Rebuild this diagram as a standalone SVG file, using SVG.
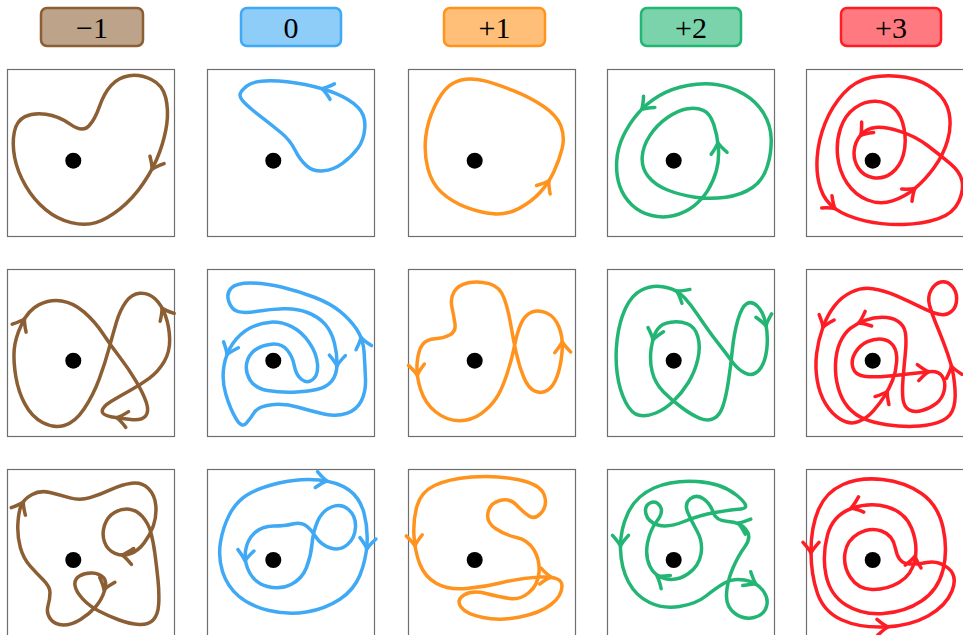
<svg xmlns="http://www.w3.org/2000/svg" width="963" height="635" viewBox="0 0 963 635">
<style>
.frame{fill:none;stroke:#6e6e6e;stroke-width:1.2}
.dot{fill:#000}
.s3{fill:none;stroke-width:10.5;stroke-linecap:round;stroke-linejoin:round}
.s1{fill:none;stroke-width:3.5;stroke-linecap:round;stroke-linejoin:round}
.brown{stroke:#8b5e34}
.blue{stroke:#3fa9f5}
.orange{stroke:#ff931e}
.green{stroke:#22b573}
.red{stroke:#ff1d25}
.hdr{stroke-width:2.5}
.lbl{font-family:"Liberation Serif","DejaVu Serif",serif;font-size:30px;fill:#000;text-anchor:middle}
</style>
<defs>
<path id="ah3" d="M-32,-24 Q-11,-5 0,0 Q-11,5 -32,24"/>
<path id="ah" d="M-10.7,-8 Q-3.7,-1.7 0,0 Q-3.7,1.7 -10.7,8"/>
</defs>
<rect width="963" height="635" fill="#fff"/>
<g id="headers">
<g id="hdr-m1"><rect class="hdr" x="41" y="8" width="102" height="38" rx="6" fill="#bda38a" stroke="#8b5e34"/><text class="lbl" x="92" y="38">−1</text></g>
<g id="hdr-0"><rect class="hdr" x="241" y="8" width="100" height="38" rx="6" fill="#8ecdf7" stroke="#3fa9f5"/><text class="lbl" x="291" y="38">0</text></g>
<g id="hdr-p1"><rect class="hdr" x="444" y="8" width="101" height="38" rx="6" fill="#ffbf78" stroke="#ff931e"/><text class="lbl" x="494.5" y="38">+1</text></g>
<g id="hdr-p2"><rect class="hdr" x="641" y="8" width="100" height="38" rx="6" fill="#7bd3ab" stroke="#22b573"/><text class="lbl" x="691" y="38">+2</text></g>
<g id="hdr-p3"><rect class="hdr" x="841" y="8" width="100" height="38" rx="6" fill="#ff7a80" stroke="#ff1d25"/><text class="lbl" x="891" y="38">+3</text></g>
</g>

<g id="panel-r1c1">
<rect class="frame" x="7.5" y="69.5" width="167" height="167"/>
<g class="s3 brown" transform="translate(0,60) scale(0.333333)">
<path d="M75,170 Q100,158 137.5,163 Q175,168 211.5,193 Q248,218 266.5,198 Q285,178 298.5,139 Q312,100 333.5,76 Q355,52 387.5,47 Q420,42 454,58.5 Q488,75 497,112.5 Q506,150 500.5,191 Q495,232 478.5,277 Q462,322 431,368.5 Q400,415 360,446.5 Q320,478 287.5,488 Q255,498 213.5,488 Q172,478 137,449 Q102,420 77,377.5 Q52,335 44,292.5 Q36,250 43,216 Q50,182 75,170 Z"/>
<use href="#ah3" transform="translate(456,328) rotate(118)"/>
</g>
<circle class="dot" cx="73.3" cy="160.7" r="8"/>
</g>

<g id="panel-r1c2">
<rect class="frame" x="207.5" y="69.5" width="167" height="167"/>
<g class="s3 blue" transform="translate(200,60) scale(0.333333)">
<path d="M120,105 Q120,95 140,78.5 Q160,62 210,62 Q260,62 315,73.5 Q370,85 410,101.5 Q450,118 473.5,141.5 Q497,165 494.5,202.5 Q492,240 473.5,265 Q455,290 427.5,310 Q400,330 370,332.5 Q340,335 320,317.5 Q300,300 285,270 Q270,240 242.5,217.5 Q215,195 182.5,170 Q150,145 135,130 Q120,115 120,105 Z"/>
<use href="#ah3" transform="translate(366,86) rotate(196)"/>
</g>
<circle class="dot" cx="273.3" cy="160.7" r="8"/>
</g>

<g id="panel-r1c3">
<rect class="frame" x="408.5" y="69.5" width="167" height="167"/>
<g class="s3 orange" transform="translate(400,60) scale(0.333333)">
<path d="M197.5,57.5 Q225,55 257.5,63.5 Q290,72 340,92 Q390,112 430,138.5 Q470,165 482.5,197.5 Q495,230 486.5,265 Q478,300 461.5,335 Q445,370 420,397.5 Q395,425 357.5,445 Q320,465 280,461.5 Q240,458 197.5,441.5 Q155,425 125,397.5 Q95,370 83.5,325 Q72,280 77,232.5 Q82,185 103.5,140 Q125,95 147.5,77.5 Q170,60 197.5,57.5 Z"/>
<use href="#ah3" transform="translate(447,362) rotate(-58)"/>
</g>
<circle class="dot" cx="474.7" cy="160.7" r="8"/>
</g>

<g id="panel-r1c4">
<rect class="frame" x="607.5" y="69.5" width="167" height="167"/>
<g class="s3 green" transform="translate(600,60) scale(0.333333)">
<path d="M349,332.5 Q358,300 355,262.5 Q352,225 341,192.5 Q330,160 310,151 Q290,142 262.5,146 Q235,150 202.5,172.5 Q170,195 149,227.5 Q128,260 126.5,292.5 Q125,325 145,350 Q165,375 202.5,390 Q240,405 285,411.5 Q330,418 377.5,411.5 Q425,405 457.5,382.5 Q490,360 502.5,317.5 Q515,275 513.5,235 Q512,195 491,160 Q470,125 432.5,102.5 Q395,80 352.5,74 Q310,68 262.5,76.5 Q215,85 177.5,107.5 Q140,130 114,160 Q88,190 70,227.5 Q52,265 50,305 Q48,345 59,377.5 Q70,410 95,434 Q120,458 155,466.5 Q190,475 222.5,466.5 Q255,458 280,439 Q305,420 322.5,392.5 Q340,365 349,332.5 Z"/>
<use href="#ah3" transform="translate(125,148) rotate(135)"/>
<use href="#ah3" transform="translate(353.5,248) rotate(-97)"/>
</g>
<circle class="dot" cx="673.7" cy="160.7" r="8"/>
</g>

<g id="panel-r1c5">
<rect class="frame" x="806.5" y="69.5" width="167" height="167"/>
<g class="s3 red" transform="translate(800,60) scale(0.333333)">
<path d="M300,214 Q255,200 227.5,202.5 Q200,205 182.5,225 Q165,245 162.5,272.5 Q160,300 175,324 Q190,348 220,353 Q250,358 275,339 Q300,320 310,285 Q320,250 312.5,207.5 Q305,165 282.5,145 Q260,125 227.5,123.5 Q195,122 165,143.5 Q135,165 121.5,205 Q108,245 113,290 Q118,335 141.5,370 Q165,405 202.5,420 Q240,435 277.5,422.5 Q315,410 345,385 Q375,360 402.5,322.5 Q430,285 442.5,242.5 Q455,200 447.5,160 Q440,120 405,91 Q370,62 317.5,52 Q265,42 215,52 Q165,62 130,101 Q95,140 75,190 Q55,240 51.5,292.5 Q48,345 61.5,385 Q75,425 107.5,447.5 Q140,470 195,482.5 Q250,495 310,493.5 Q370,492 415,476 Q460,460 476,425 Q492,390 486,362.5 Q480,335 450,310 Q420,285 382.5,256.5 Q345,228 300,214 Z"/>
<use href="#ah3" transform="translate(182,226) rotate(131)"/>
<use href="#ah3" transform="translate(345,385) rotate(-40)"/>
<use href="#ah3" transform="translate(105,446) rotate(40)"/>
</g>
<circle class="dot" cx="872.7" cy="160.7" r="8"/>
</g>

<g id="panel-r2c1">
<rect class="frame" x="7.5" y="269.5" width="167" height="167"/>
<g class="s3 brown" transform="translate(0,260) scale(0.333333)">
<path d="M42.5,270 Q45,235 65,192.5 Q85,150 117.5,134 Q150,118 185,123 Q220,128 252.5,156.5 Q285,185 310,222.5 Q335,260 360,292.5 Q385,325 407.5,362.5 Q430,400 439,427.5 Q448,455 436.5,468.5 Q425,482 392.5,478.5 Q360,475 332.5,470 Q305,465 306.5,452.5 Q308,440 334,424 Q360,408 390,391.5 Q420,375 447.5,355 Q475,335 492.5,305 Q510,275 509,237.5 Q508,200 496.5,167.5 Q485,135 465,116.5 Q445,98 420,100 Q395,102 377.5,126 Q360,150 349,187.5 Q338,225 326.5,267.5 Q315,310 297.5,357.5 Q280,405 252.5,446.5 Q225,488 192.5,496.5 Q160,505 127.5,487.5 Q95,470 75,432.5 Q55,395 47.5,350 Q40,305 42.5,270 Z"/>
<use href="#ah3" transform="translate(73.5,176.6) rotate(-60)"/>
<use href="#ah3" transform="translate(350,473) rotate(190)"/>
<use href="#ah3" transform="translate(486,144) rotate(-119)"/>
</g>
<circle class="dot" cx="73.3" cy="360.7" r="8"/>
</g>

<g id="panel-r2c2">
<rect class="frame" x="207.5" y="269.5" width="167" height="167"/>
<g class="s3 blue" transform="translate(200,260) scale(0.333333)">
<path d="M496.5,357.5 Q495,320 492.5,279 Q490,238 470,208 Q450,178 420,154 Q390,130 345,112.5 Q300,95 250,82.5 Q200,70 155,69 Q110,68 94,84 Q78,100 86.5,125 Q95,150 115,155 Q135,160 172.5,154 Q210,148 250,146.5 Q290,145 322.5,157.5 Q355,170 375,192.5 Q395,215 403.5,250 Q412,285 411,315 Q410,345 395,363.5 Q380,382 350,388.5 Q320,395 280,396.5 Q240,398 202.5,391.5 Q165,385 150,360 Q135,335 140,310 Q145,285 165,270 Q185,255 215,252.5 Q245,250 261.5,270 Q278,290 283,317.5 Q288,345 305,358.5 Q322,372 338.5,358.5 Q355,345 352.5,312.5 Q350,280 327.5,247.5 Q305,215 275,200 Q245,185 212.5,186.5 Q180,188 150,204 Q120,220 99,250 Q78,280 71.5,320 Q65,360 77.5,402.5 Q90,445 107.5,475 Q125,505 138.5,490 Q152,475 163.5,456.5 Q175,438 215,434 Q255,430 297.5,442.5 Q340,455 375,462.5 Q410,470 440,460 Q470,450 484,422.5 Q498,395 496.5,357.5 Z"/>
<use href="#ah3" transform="translate(411,318) rotate(92)"/>
<use href="#ah3" transform="translate(81,284) rotate(112)"/>
<use href="#ah3" transform="translate(483,232) rotate(-105)"/>
</g>
<circle class="dot" cx="273.3" cy="360.7" r="8"/>
</g>

<g id="panel-r2c3">
<rect class="frame" x="408.5" y="269.5" width="167" height="167"/>
<g class="s3 orange" transform="translate(400,260) scale(0.333333)">
<path d="M267.5,71 Q235,62 205,68.5 Q175,75 162.5,95 Q150,115 156,142.5 Q162,170 165,192.5 Q168,215 149,225 Q130,235 105,236.5 Q80,238 67.5,254 Q55,270 51.5,307.5 Q48,345 61.5,387.5 Q75,430 107.5,456 Q140,482 177.5,482 Q215,482 243.5,461 Q272,440 288.5,415 Q305,390 320,345 Q335,300 343.5,257.5 Q352,215 363.5,190 Q375,165 395,156.5 Q415,148 440,159 Q465,170 477.5,202.5 Q490,235 486,277.5 Q482,320 471,350 Q460,380 442.5,391 Q425,402 405,393.5 Q385,385 371.5,352.5 Q358,320 349,280 Q340,240 332.5,195 Q325,150 312.5,115 Q300,80 267.5,71 Z"/>
<use href="#ah3" transform="translate(52,346) rotate(85)"/>
<use href="#ah3" transform="translate(486.5,245) rotate(-93)"/>
</g>
<circle class="dot" cx="474.7" cy="360.7" r="8"/>
</g>

<g id="panel-r2c4">
<rect class="frame" x="607.5" y="269.5" width="167" height="167"/>
<g class="s3 green" transform="translate(600,260) scale(0.333333)">
<path d="M262.5,191.5 Q240,183 212.5,186.5 Q185,190 172.5,207.5 Q160,225 154,262.5 Q148,300 156.5,335 Q165,370 190,395 Q215,420 245,442.5 Q275,465 300,475 Q325,485 342.5,475 Q360,465 369,437.5 Q378,410 385,365 Q392,320 397,270 Q402,220 413.5,180 Q425,140 440,131 Q455,122 472.5,138.5 Q490,155 497.5,192.5 Q505,230 500,270 Q495,310 477.5,330 Q460,350 437.5,340 Q415,330 396.5,305 Q378,280 356.5,252.5 Q335,225 312.5,192.5 Q290,160 272.5,136 Q255,112 237.5,98.5 Q220,85 187.5,80 Q155,75 125,90 Q95,105 76.5,145 Q58,185 51.5,237.5 Q45,290 51.5,340 Q58,390 76.5,426 Q95,462 117.5,466 Q140,470 167.5,459 Q195,448 220,424 Q245,400 265,367.5 Q285,335 293.5,297.5 Q302,260 293.5,230 Q285,200 262.5,191.5 Z"/>
<use href="#ah3" transform="translate(230,93) rotate(210)"/>
<use href="#ah3" transform="translate(159,240) rotate(105)"/>
<use href="#ah3" transform="translate(498,198) rotate(78)"/>
</g>
<circle class="dot" cx="673.7" cy="360.7" r="8"/>
</g>

<g id="panel-r2c5">
<rect class="frame" x="806.5" y="269.5" width="167" height="167"/>
<g class="s3 red" transform="translate(800,260) scale(0.333333)">
<path d="M456.5,454 Q468,430 465,387.5 Q462,345 453.5,315 Q445,285 431.5,250 Q418,215 406.5,187.5 Q395,160 388.5,135 Q382,110 393.5,90 Q405,70 422.5,66 Q440,62 455,77 Q470,92 470,116 Q470,140 455,154 Q440,168 417.5,163 Q395,158 362.5,141.5 Q330,125 290,107.5 Q250,90 217.5,86 Q185,82 155,96 Q125,110 103.5,137.5 Q82,165 68.5,202.5 Q55,240 50,280 Q45,320 51.5,360 Q58,400 76.5,431 Q95,462 122.5,478.5 Q150,495 175,485 Q200,475 220,452.5 Q240,430 254,407.5 Q268,385 278,360 Q288,335 290,305 Q292,275 280,257.5 Q268,240 246.5,237.5 Q225,235 202.5,245 Q180,255 166,277.5 Q152,300 158.5,322.5 Q165,345 192.5,348.5 Q220,352 260,348.5 Q300,345 330,341.5 Q360,338 387.5,335 Q415,332 426.5,348.5 Q438,365 433,390 Q428,415 409,430 Q390,445 366,451.5 Q342,458 327,449 Q312,440 309,417.5 Q306,395 309,357.5 Q312,320 316,280 Q320,240 316,217.5 Q312,195 293.5,183.5 Q275,172 247.5,172 Q220,172 195,181 Q170,190 151,205 Q132,220 120,247.5 Q108,275 106.5,312.5 Q105,350 115,385 Q125,420 145,442.5 Q165,465 192.5,476.5 Q220,488 260,494 Q300,500 340,499 Q380,498 412.5,488 Q445,478 456.5,454 Z"/>
<use href="#ah3" transform="translate(69,202) rotate(110)"/>
<use href="#ah3" transform="translate(176,189) rotate(156)"/>
<use href="#ah3" transform="translate(386,335) rotate(-5)"/>
<use href="#ah3" transform="translate(262,394) rotate(-60)"/>
<use href="#ah3" transform="translate(454,318) rotate(-105)"/>
</g>
<circle class="dot" cx="872.7" cy="360.7" r="8"/>
</g>

<g id="panel-r3c1">
<rect class="frame" x="7.5" y="469.5" width="167" height="167"/>
<g class="s3 brown" transform="translate(0,460) scale(0.333333)">
<path d="M62.5,139 Q70,118 95,104 Q120,90 150,97.5 Q180,105 210,113.5 Q240,122 270,113 Q300,104 332.5,89 Q365,74 395,70 Q425,66 445,85.5 Q465,105 467.5,137.5 Q470,170 460,197.5 Q450,225 432.5,248.5 Q415,272 391.5,281 Q368,290 345,280 Q322,270 313.5,246 Q305,222 313.5,196 Q322,170 343.5,157.5 Q365,145 387.5,147.5 Q410,150 427.5,170 Q445,190 452.5,217.5 Q460,245 465,282.5 Q470,320 474,360 Q478,400 476,432.5 Q474,465 459.5,480 Q445,495 417.5,493.5 Q390,492 357.5,480 Q325,468 296.5,453 Q268,438 248,416.5 Q228,395 225,376.5 Q222,358 238.5,348 Q255,338 276.5,339 Q298,340 310,352.5 Q322,365 313.5,392.5 Q305,420 286.5,441 Q268,462 241.5,478.5 Q215,495 190,495 Q165,495 151.5,477.5 Q138,460 144,437.5 Q150,415 150,397.5 Q150,380 130,360 Q110,340 90,317.5 Q70,295 61,262.5 Q52,230 53.5,195 Q55,160 62.5,139 Z"/>
<use href="#ah3" transform="translate(70,126) rotate(-62)"/>
<use href="#ah3" transform="translate(366,285) rotate(188)"/>
<use href="#ah3" transform="translate(312,390) rotate(108)"/>
</g>
<circle class="dot" cx="73.3" cy="560" r="8"/>
</g>

<g id="panel-r3c2">
<rect class="frame" x="207.5" y="469.5" width="167" height="167"/>
<g class="s1 blue">
<path d="M247,495 Q258,488 279,483 Q300,478 319,480 Q338,482 349,490 Q360,498 364,513 Q368,528 367,544 Q366,560 360,575 Q354,590 339.5,599.5 Q325,609 306.5,612 Q288,615 269,610.5 Q250,606 238.5,596 Q227,586 222.5,571.5 Q218,557 220.5,542 Q223,527 229.5,514.5 Q236,502 247,495 Z M292.5,524 Q285,526 273.5,526 Q262,526 254.5,533 Q247,540 245.5,551 Q244,562 249.5,572.5 Q255,583 267.5,586.5 Q280,590 291,584.5 Q302,579 306.5,567.5 Q311,556 312,544 Q313,532 317.5,521.5 Q322,511 331.5,507 Q341,503 348.5,509.5 Q356,516 355.5,527 Q355,538 347.5,544.5 Q340,551 330.5,548 Q321,545 315.5,536.5 Q310,528 305,525 Q300,522 292.5,524 Z"/>
<use href="#ah" transform="translate(327,481) rotate(8)"/>
<use href="#ah" transform="translate(367,549) rotate(95)"/>
<use href="#ah" transform="translate(245,561) rotate(95)"/>
</g>
<circle class="dot" cx="273.3" cy="560" r="8"/>
</g>

<g id="panel-r3c3">
<rect class="frame" x="408.5" y="469.5" width="167" height="167"/>
<g class="s1 orange">
<path d="M544,494.5 Q540,484 517.5,479.5 Q495,475 471.5,477 Q448,479 434.5,485.5 Q421,492 417,506 Q413,520 414,536 Q415,552 420,564.5 Q425,577 436.5,583.5 Q448,590 466.5,588.5 Q485,587 502.5,582.5 Q520,578 541,577 Q562,576 562,586 Q562,596 551,604.5 Q540,613 520,617 Q500,621 483,617.5 Q466,614 461,607 Q456,600 464,595 Q472,590 486,593.5 Q500,597 510,598.5 Q520,600 529,592.5 Q538,585 539,572.5 Q540,560 534,550 Q528,540 516.5,537.5 Q505,535 495.5,528.5 Q486,522 488,512.5 Q490,503 500,500.5 Q510,498 516.5,505 Q523,512 529,516 Q535,520 541.5,512.5 Q548,505 544,494.5 Z"/>
<use href="#ah" transform="translate(415,546) rotate(86)"/>
<use href="#ah" transform="translate(551,577) rotate(5)"/>
</g>
<circle class="dot" cx="474.7" cy="560" r="8"/>
</g>

<g id="panel-r3c4">
<rect class="frame" x="607.5" y="469.5" width="167" height="167"/>
<g class="s1 green">
<path d="M741,509 Q752,508 737,495.5 Q722,483 697,481.5 Q672,480 654,488 Q636,496 628,513 Q620,530 620.5,549 Q621,568 628.5,582 Q636,596 649.5,602.5 Q663,609 679.5,606.5 Q696,604 706,596 Q716,588 724.5,583 Q733,578 744.5,580 Q756,582 762.5,590 Q769,598 766.5,606.5 Q764,615 754,617.5 Q744,620 735,613.5 Q726,607 726.5,594.5 Q727,582 732.5,569 Q738,556 745,546.5 Q752,537 746,529.5 Q740,522 728,521.5 Q716,521 713,512 Q710,503 703,498.5 Q696,494 690,499 Q684,504 688,513 Q692,522 697.5,532 Q703,542 701,554 Q699,566 688.5,573.5 Q678,581 666.5,579 Q655,577 650,566.5 Q645,556 647.5,543 Q650,530 657,521 Q664,512 660,506 Q656,500 650,503 Q644,506 646,514 Q648,522 658,525 Q668,528 684,521.5 Q700,515 715,512.5 Q730,510 741,509 Z"/>
<use href="#ah" transform="translate(620.5,546) rotate(90)"/>
<use href="#ah" transform="translate(738,523) rotate(200)"/>
<use href="#ah" transform="translate(657,576) rotate(215)"/>
<use href="#ah" transform="translate(756,584) rotate(30)"/>
</g>
<circle class="dot" cx="673.7" cy="560" r="8"/>
</g>

<g id="panel-r3c5">
<rect class="frame" x="806.5" y="469.5" width="167" height="167"/>
<g class="s1 red">
<path d="M906.5,563.5 Q898,562 895.5,548.5 Q893,535 881.5,531 Q870,527 858.5,533.5 Q847,540 845,553 Q843,566 850.5,577.5 Q858,589 872,589.5 Q886,590 899,582.5 Q912,575 915,559.5 Q918,544 911.5,528 Q905,512 887.5,507 Q870,502 851.5,508.5 Q833,515 827.5,535 Q822,555 826,575 Q830,595 846,605 Q862,615 883.5,613.5 Q905,612 921.5,601 Q938,590 943,570 Q948,550 943,527.5 Q938,505 921.5,493.5 Q905,482 882.5,479.5 Q860,477 843,484.5 Q826,492 818.5,509.5 Q811,527 811,551 Q811,575 817.5,593.5 Q824,612 842,620 Q860,628 885,627 Q910,626 928,616 Q946,606 952,591 Q958,576 948,568 Q938,560 926.5,562.5 Q915,565 906.5,563.5 Z"/>
<use href="#ah" transform="translate(851,508) rotate(161)"/>
<use href="#ah" transform="translate(915,556) rotate(-80)"/>
<use href="#ah" transform="translate(811,553) rotate(90)"/>
<use href="#ah" transform="translate(888,627) rotate(-2)"/>
</g>
<circle class="dot" cx="872.7" cy="560" r="8"/>
</g>
</svg>
